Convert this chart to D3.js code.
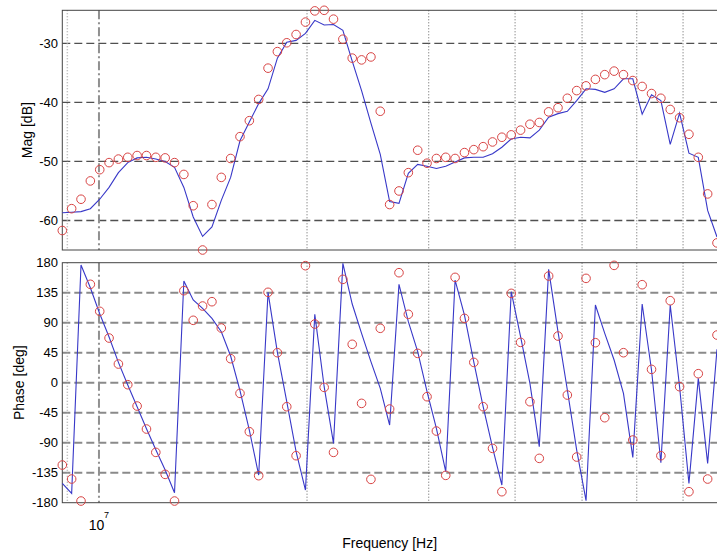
<!DOCTYPE html>
<html>
<head>
<meta charset="utf-8">
<script src="https://d3js.org/d3.v7.min.js"></script>
<style>
body { margin: 0; background: #fff; }
svg { display: block; font-family: "Liberation Sans", Arial, sans-serif; }
</style>
</head>
<body>
<div id="chart"></div>
<script>

var freqMHz = [
	8.850, 9.130, 9.419, 9.717, 10.025, 10.342, 10.669, 11.007, 11.355, 11.715,
	12.085, 12.468, 12.862, 13.269, 13.689, 14.123, 14.570, 15.031, 15.506, 15.997,
	16.503, 17.025, 17.564, 18.120, 18.694, 19.285, 19.896, 20.525, 21.175, 21.845,
	22.537, 23.250, 23.986, 24.745, 25.528, 26.336, 27.170, 28.030, 28.917, 29.832,
	30.776, 31.750, 32.755, 33.792, 34.862, 35.965, 37.104, 38.278, 39.490, 40.740,
	42.029, 43.359, 44.732, 46.148, 47.608, 49.115, 50.670, 52.274, 53.928, 55.635,
	57.396, 59.213, 61.087, 63.021, 65.016, 67.074, 69.197, 71.387, 73.647, 75.978,
	78.383
];

// measured magnitude [dB] (red circles)
var magMeas = [
	-61.7, -58.0, -56.4, -53.3, -51.4, -50.2, -49.6, -49.3, -49.0, -49.0,
	-49.3, -49.4, -50.2, -52.2, -57.5, -65.0, -57.3, -52.7, -49.5, -45.8,
	-43.1, -39.5, -34.2, -31.4, -29.9, -28.5, -26.4, -24.5, -24.4, -25.9,
	-29.3, -32.5, -32.8, -32.3, -41.5, -57.3, -55.0, -51.9, -48.1, -50.3,
	-49.5, -49.3, -49.5, -48.5, -48.0, -47.5, -46.7, -45.9, -45.5, -44.7,
	-43.7, -43.4, -41.6, -40.9, -39.3, -38.0, -37.2, -36.1, -35.3, -34.7,
	-35.3, -36.3, -37.3, -38.5, -39.3, -41.2, -42.6, -45.4, -49.3, -55.5,
	-63.8
];

// model magnitude [dB] (blue line)
var magModel = [
	-58.7, -58.6, -58.5, -58.0, -56.4, -54.4, -51.9, -50.2, -49.4, -49.3,
	-49.6, -50.0, -51.0, -54.4, -59.4, -62.7, -61.1, -56.6, -52.7, -46.5,
	-43.3, -40.2, -37.7, -32.5, -29.8, -29.5, -28.3, -26.1, -26.9, -26.8,
	-27.8, -33.0, -38.0, -43.5, -48.8, -56.8, -57.1, -52.0, -50.5, -50.8,
	-51.2, -50.8, -50.1, -49.4, -49.3, -49.3, -48.7, -47.6, -46.2, -45.9,
	-46.0, -44.7, -42.5, -41.9, -41.5, -39.7, -37.7, -37.8, -38.3, -37.7,
	-36.0, -36.0, -42.0, -38.7, -39.7, -47.1, -41.8, -48.6, -49.3, -58.3,
	-62.8
];

// measured phase [deg]
var phaseMeas = [
	-123.5, -144.5, -177.5, 147.6, 107.1, 67, 28, -3, -35, -69.5,
	-104.5, -137.5, -177.5, 138, 93.6, 115, 121.5, 82, 36, -16,
	-73.5, -139.5, 135.6, 45, -36, -109.5, 175.5, 88, -7, -104.5,
	155, 57.6, -31, -145, 81.6, -39.5, 165, 102.6, 44, -21,
	-72.5, -139, 158, 96.5, 30.5, -36, -98.5, -163.5, 134, 60.5,
	-28.5, -113.5, 160, 70, -18.5, -111.5, 156.5, 60, -52.5, 176,
	45, -86, 147, 20, -109.5, 123, -6, -163.5, 13.5, -144.5,
	71.5
];

// model phase [deg]
var phaseModel = [
	-151, -166, 176.5, 142.5, 103.5, 68.5, 30.5, -3.5, -36, -69,
	-100.5, -131, -165, 152.5, 124, 111.5, 96.5, 76.5, 40, -12,
	-71, -138.5, 135.6, 45.5, -28.5, -103.5, -161, 102.5, -6, -91,
	179, 118, 74, 31.5, -8.5, -63.5, 147.5, 91.5, 46.5, -13.5,
	-68.5, -133.5, 154, 101.5, 31, -36, -97, -153.5, 136.5, 69,
	-1, -96, 170, 76.5, -11, -101, -177, 116.5, 74, 34,
	-16, -112, 118, 19, -120, 116.5, -6, -151, 6.5, -121,
	50
];

var magTicks = [-30, -40, -50, -60];
var phaseTicks = [180, 135, 90, 45, 0, -45, -90, -135, -180];
var majorFreqs = [1e7];
var minorFreqs = [9e6, 2e7, 3e7, 4e7, 5e7, 6e7, 7e7];


/*
 * BodePlot - magnitude and phase panels sharing a log frequency axis
 */

BodePlot = function(_parentElement){
	this.parentElement = _parentElement;
	this.initVis();
}

BodePlot.prototype.initVis = function(){
	var vis = this;

	vis.width = 717;
	vis.height = 555;
	vis.left = 62.3;
	vis.right = 717;

	vis.svg = d3.select(vis.parentElement).append("svg")
		.attr("width", vis.width)
		.attr("height", vis.height);

	vis.freqs = freqMHz.map(function(f){ return f * 1e6; });

	vis.x = d3.scaleLog()
		.domain(d3.extent(vis.freqs))
		.range([vis.left, vis.right]);

	// axis tight: limits come from the measured extremes
	vis.yMag = d3.scaleLinear()
		.domain(d3.extent(magMeas.concat(magModel)))
		.range([250, 10.3]);

	vis.yPhase = d3.scaleLinear()
		.domain([-180, 180])
		.range([502.7, 262.7]);

	vis.drawPanel(vis.yMag, magTicks, magMeas, magModel, "Mag [dB]", 27, false);
	vis.drawPanel(vis.yPhase, phaseTicks, phaseMeas, phaseModel, "Phase [deg]", 19, true);

	// x tick label 10^7
	var x7 = vis.x(1e7);
	vis.svg.append("text")
		.attr("x", x7 - 2.5)
		.attr("y", 530)
		.attr("text-anchor", "middle")
		.attr("font-size", 14)
		.text("10");
	vis.svg.append("text")
		.attr("x", x7 + 7.5)
		.attr("y", 517.5)
		.attr("text-anchor", "middle")
		.attr("font-size", 9)
		.text("7");

	vis.svg.append("text")
		.attr("x", (vis.left + vis.right) / 2)
		.attr("y", 548)
		.attr("text-anchor", "middle")
		.attr("font-size", 14)
		.text("Frequency [Hz]");
}


/*
 * One panel: grid, frame, tick labels, model line and measured circles
 */

BodePlot.prototype.drawPanel = function(y, ticks, meas, model, label, labelX, lightGrid){
	var vis = this;

	var top = y.range()[1];
	var bottom = y.range()[0];

	var g = vis.svg.append("g");

	// horizontal dashed grid
	g.selectAll(".hgrid")
		.data(ticks.filter(function(t){ return y(t) > top + 1 && y(t) < bottom - 1; }))
		.enter().append("line")
		.attr("x1", vis.left).attr("x2", vis.right)
		.attr("y1", function(d){ return y(d); })
		.attr("y2", function(d){ return y(d); })
		.attr("stroke", lightGrid ? "#8a8a8a" : "#505050")
		.attr("stroke-width", lightGrid ? 2 : 1.3)
		.attr("stroke-dasharray", "8,4");

	// minor dotted vertical grid
	g.selectAll(".minor")
		.data(minorFreqs)
		.enter().append("line")
		.attr("x1", function(d){ return vis.x(d); })
		.attr("x2", function(d){ return vis.x(d); })
		.attr("y1", top).attr("y2", bottom)
		.attr("stroke", function(d){ return d < 1e7 ? "#b0b0b0" : "#606060"; })
		.attr("stroke-width", function(d){ return d < 1e7 ? 1.5 : 1; })
		.attr("stroke-dasharray", "1,2");

	// major dash-dot vertical grid
	g.selectAll(".major")
		.data(majorFreqs)
		.enter().append("line")
		.attr("x1", function(d){ return vis.x(d); })
		.attr("x2", function(d){ return vis.x(d); })
		.attr("y1", top).attr("y2", bottom)
		.attr("stroke", "#909090")
		.attr("stroke-width", 2)
		.attr("stroke-dasharray", "9,3,2,3");

	// frame
	g.append("rect")
		.attr("x", vis.left)
		.attr("y", top)
		.attr("width", vis.right - vis.left + 5)
		.attr("height", bottom - top)
		.attr("fill", "none")
		.attr("stroke", "#444")
		.attr("stroke-width", 1);

	// tick labels
	g.selectAll(".tick")
		.data(ticks)
		.enter().append("text")
		.attr("x", 58)
		.attr("y", function(d){ return y(d); })
		.attr("dy", "0.35em")
		.attr("text-anchor", "end")
		.attr("font-size", 13)
		.text(function(d){ return d; });

	g.append("text")
		.attr("transform", "translate(" + labelX + "," + ((top + bottom) / 2) + ") rotate(-90)")
		.attr("dy", "0.35em")
		.attr("text-anchor", "middle")
		.attr("font-size", 14)
		.text(label);

	var line = d3.line()
		.x(function(d, i){ return vis.x(vis.freqs[i]); })
		.y(function(d){ return y(d); });

	g.append("path")
		.datum(model)
		.attr("d", line)
		.attr("fill", "none")
		.attr("stroke", "#3838c8")
		.attr("stroke-width", 1.1);

	g.selectAll(".pt")
		.data(meas)
		.enter().append("circle")
		.attr("cx", function(d, i){ return vis.x(vis.freqs[i]); })
		.attr("cy", function(d){ return y(d); })
		.attr("r", 4.3)
		.attr("fill", "none")
		.attr("stroke", "#d84444")
		.attr("stroke-width", 1);
}

var bode = new BodePlot("#chart");

</script>
</body>
</html>
